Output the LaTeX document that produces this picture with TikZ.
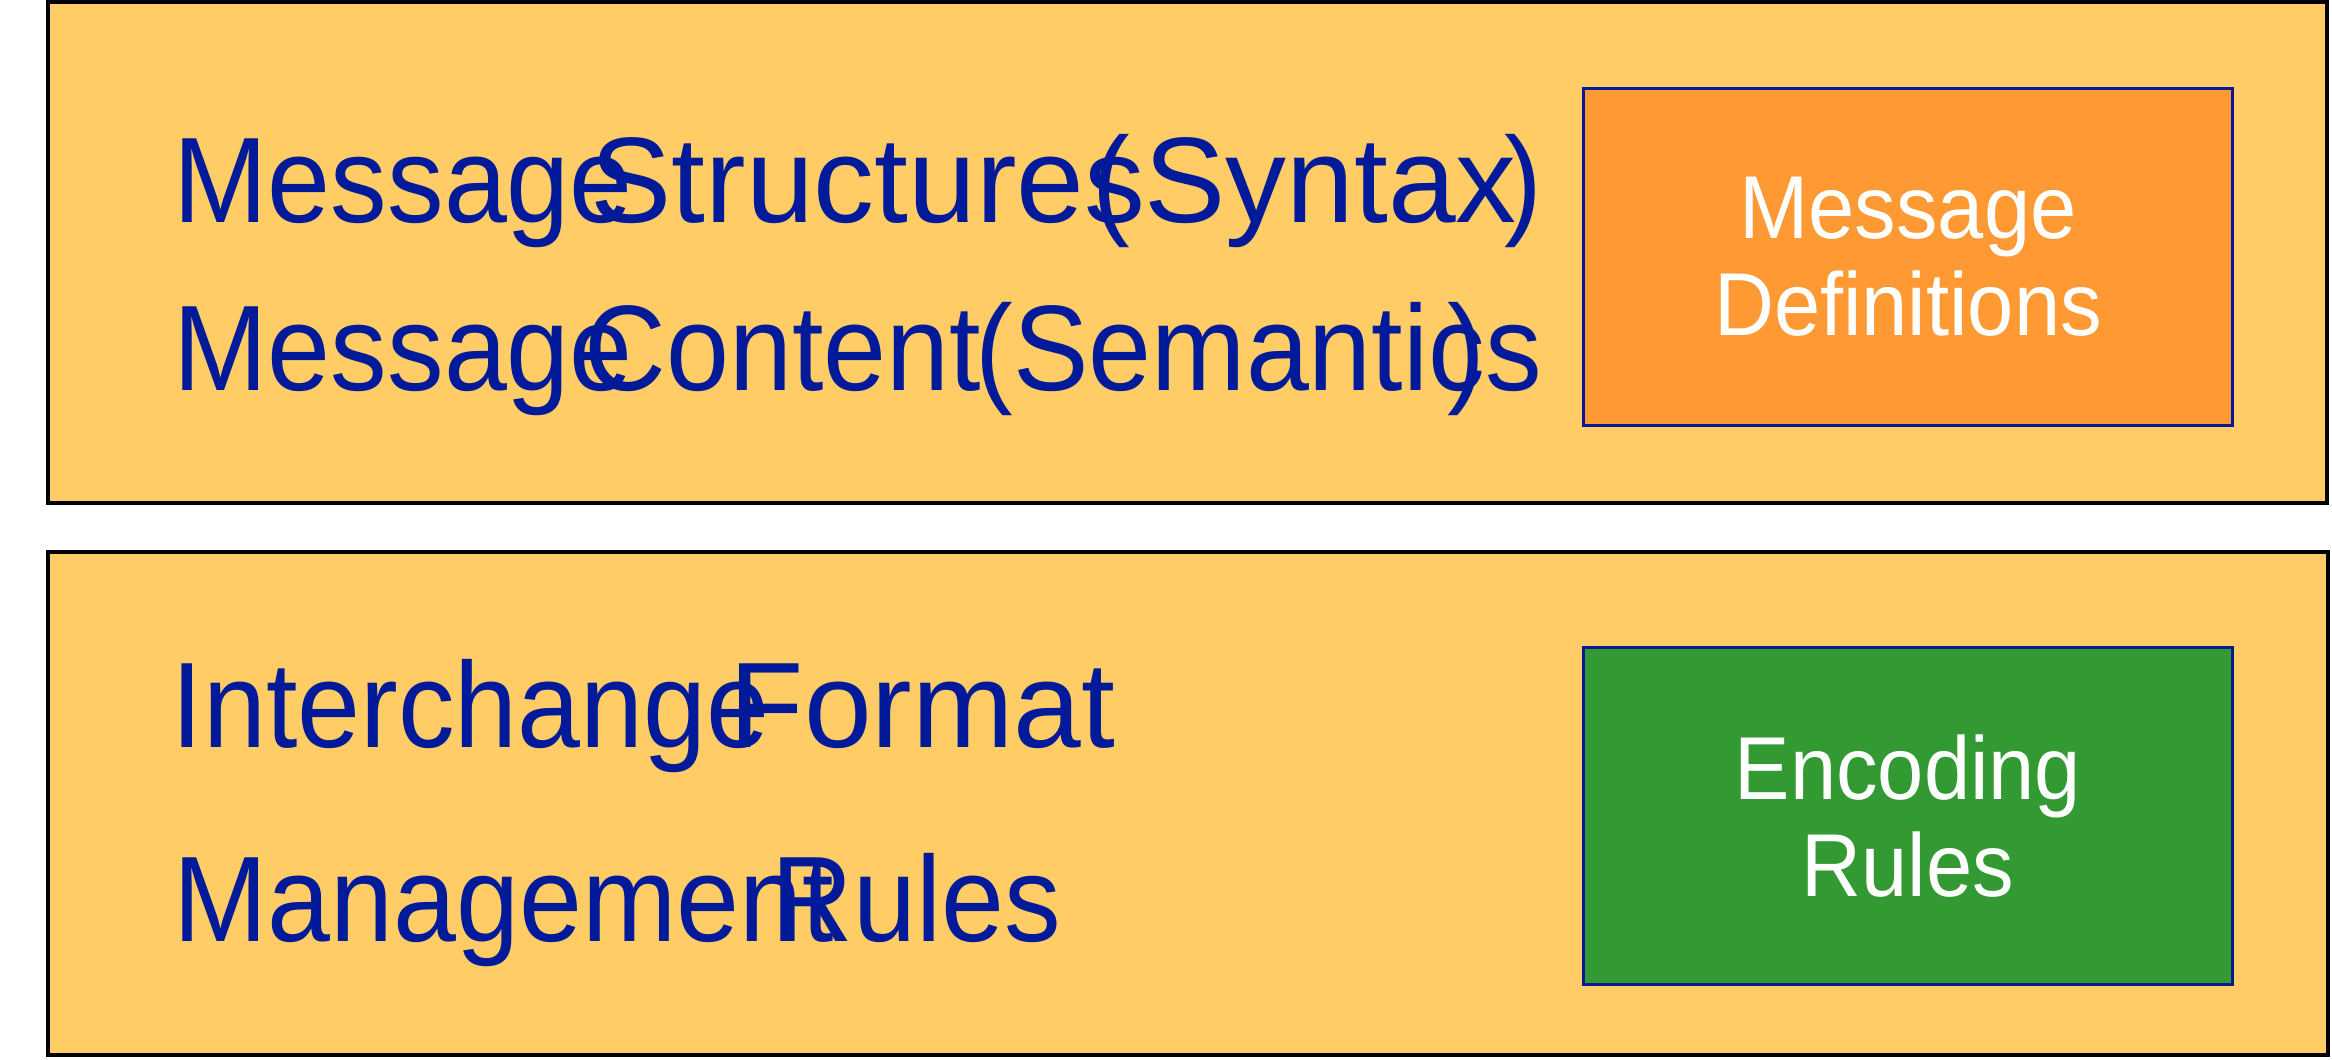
\documentclass[tikz,border=0pt]{standalone}
\usepackage{fontspec}
\setmainfont[FakeStretch=0.93]{Liberation Sans}
\newfontfamily\wideface{Liberation Sans}

\definecolor{panel}{RGB}{255,204,102}
\definecolor{defsfill}{RGB}{255,153,51}
\definecolor{rulesfill}{RGB}{51,153,51}
\definecolor{ink}{RGB}{0,26,153}

\begin{document}
\begin{tikzpicture}[x=0.01cm, y=-0.01cm,
    panelbox/.style={fill=panel, draw=black, line width=0.9pt},
    layerbox/.style={draw=ink, line width=0.85pt, text=white, align=center,
        minimum width=6.49cm, minimum height=3.36cm, inner sep=0pt,
        font=\fontsize{25.4}{27.6}\selectfont},
    word/.style={anchor=base west, inner sep=0pt, text=ink,
        font=\fontsize{34.6}{40}\selectfont},
    wideword/.style={word, font=\wideface\fontsize{34.6}{40}\selectfont}]
    \useasboundingbox (0,0) rectangle (2332,1060);

    % two layer panels
    \draw[panelbox] (48,2) rectangle (2327,503);
    \draw[panelbox] (48,552) rectangle (2328,1055);

    % upper panel: message layer
    \node[word]     (msgA)     at (173,222)  {Message};
    \node[wideword] (struct)   at (590,222)  {Structures};
    \node[word]     (synopen)  at (1092,222) {(};
    \node[wideword] (syntax)   at (1144,222) {Syntax};
    \node[word]     (synclose) at (1504,222) {)};
    \node[word]     (msgB)     at (173,390)  {Message};
    \node[word]     (content)  at (584,390)  {Content};
    \node[word]     (semant)   at (975,390)  {(Semantics};
    \node[word]     (semclose) at (1447,390) {)};
    \node[layerbox, fill=defsfill] (defs) at (1908,257) {Message\\Definitions};

    % lower panel: interchange layer
    \node[word]     (inter)  at (171,747) {Interchange};
    \node[wideword] (format) at (729,747) {Format};
    \node[word]     (manage) at (173,941) {Management};
    \node[word]     (mrules) at (771,941) {Rules};
    \node[layerbox, fill=rulesfill] (enc) at (1908,816) {Encoding\\Rules};
\end{tikzpicture}
\end{document}
